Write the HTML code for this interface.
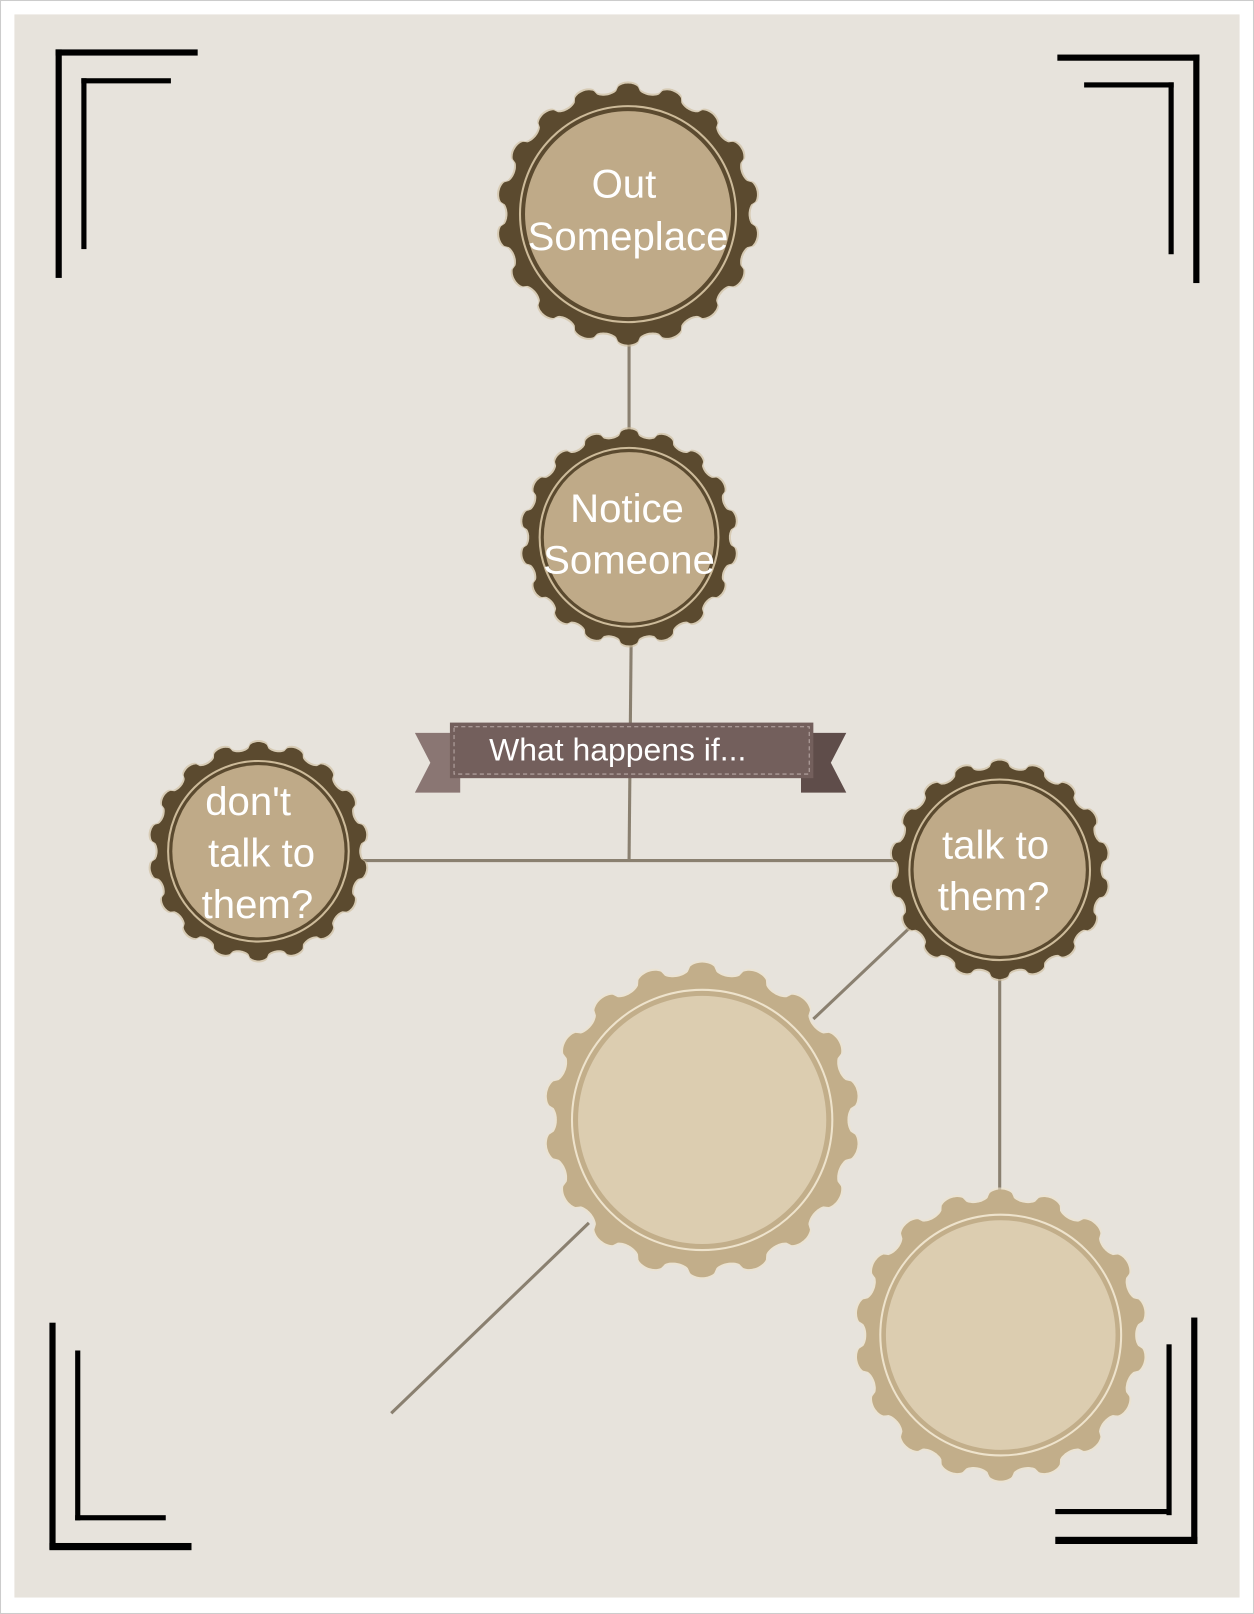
<!DOCTYPE html>
<html><head><meta charset="utf-8"><style>
html,body{margin:0;padding:0;background:#fff}
svg{display:block}
text{font-family:"Liberation Sans",sans-serif;fill:#fff}
</style></head><body>
<svg id="s" width="1254" height="1614" viewBox="0 0 1218 1568" preserveAspectRatio="none" xmlns="http://www.w3.org/2000/svg">
<rect x="0.5" y="0.5" width="1217" height="1567" fill="#fff" stroke="#ccc"/>
<rect x="14" y="14" width="1190" height="1538" fill="#e7e3dc"/>
<g fill="#000">
<rect x="54" y="48" width="6" height="222"/><rect x="54" y="48" width="138" height="6"/>
<rect x="79" y="76" width="5" height="166"/><rect x="79" y="76" width="87" height="5"/>
<rect x="1027" y="53" width="138" height="6"/><rect x="1159" y="53" width="6" height="222"/>
<rect x="1053" y="80" width="87" height="5"/><rect x="1135" y="80" width="5" height="167"/>
<rect x="48" y="1285" width="6" height="220"/><rect x="48" y="1499" width="138" height="7"/>
<rect x="73" y="1312" width="5" height="165"/><rect x="73" y="1472" width="88" height="5"/>
<rect x="1157" y="1280" width="6" height="220"/><rect x="1025" y="1493" width="138" height="7"/>
<rect x="1133" y="1306" width="5" height="166"/><rect x="1025" y="1466" width="112" height="5"/>
</g>
<g stroke="#8a8070" stroke-width="3" fill="none">
<line x1="611" y1="330" x2="611" y2="425"/>
<line x1="613" y1="625" x2="611" y2="836"/>
<line x1="350" y1="836" x2="870" y2="836"/>
<line x1="885" y1="900" x2="790" y2="990"/>
<line x1="971" y1="950" x2="971" y2="1165"/>
<line x1="572" y1="1188" x2="380" y2="1373"/>
</g>
<g id="badges"></g>
<polygon points="403,712 447,712 447,770 403,770 418,741" fill="#8a7673"/>
<polygon points="822,712 778,712 778,770 822,770 807,741" fill="#5f4d4a"/>
<rect x="437" y="702" width="353" height="54" fill="#735f5c"/>
<rect x="441" y="706" width="345" height="46" fill="none" stroke="#b9a9a6" stroke-width="1" stroke-dasharray="4,3"/>
<text x="600" y="739" font-size="31" text-anchor="middle">What happens if...</text>
<g font-size="39" text-anchor="middle">
<text x="606" y="192">Out</text><text x="610" y="243">Someplace</text>
<text x="609" y="507">Notice</text><text x="611" y="557">Someone</text>
<text x="241" y="792">don't</text><text x="254" y="842">talk to</text><text x="250" y="892">them?</text>
<text x="967" y="834">talk to</text><text x="965" y="884">them?</text>
</g>
</svg>
<script>
function scallop(cx,cy,R,a,n){let d="";for(let i=0;i<=720;i++){const t=i/720*2*Math.PI;const c=Math.cos(n*t);const r=R+a*(c>0?Math.sqrt(c):-Math.sqrt(-c));d+=(i?"L":"M")+(cx+r*Math.sin(t)).toFixed(1)+","+(cy-r*Math.cos(t)).toFixed(1);}return d+"Z";}
const g=document.getElementById("badges");let h="";
function badge(cx,cy,R,n,outer,inner,ring){
h+=`<path d="${scallop(cx,cy,R+2,R*0.04,n)}" fill="${ring}" opacity="0.6"/>`;
h+=`<path d="${scallop(cx,cy,R,R*0.04,n)}" fill="${outer}"/>`;
h+=`<circle cx="${cx}" cy="${cy}" r="${R*0.86}" fill="none" stroke="${ring}" stroke-width="2"/>`;
h+=`<circle cx="${cx}" cy="${cy}" r="${R*0.82}" fill="${inner}"/>`;}
badge(610,208,122,18,"#5b4a2f","#bfaa88","#cdbb9a");
badge(611,522,101,18,"#5b4a2f","#bfaa88","#cdbb9a");
badge(251,827,102,18,"#5b4a2f","#bfaa88","#cdbb9a");
badge(971,845,102,18,"#5b4a2f","#bfaa88","#cdbb9a");
badge(682,1088,147,18,"#c2ae8a","#dccdb0","#eee3cc");
badge(972,1297,136,18,"#c2ae8a","#dccdb0","#eee3cc");
g.innerHTML=h;
</script>
</body></html>
